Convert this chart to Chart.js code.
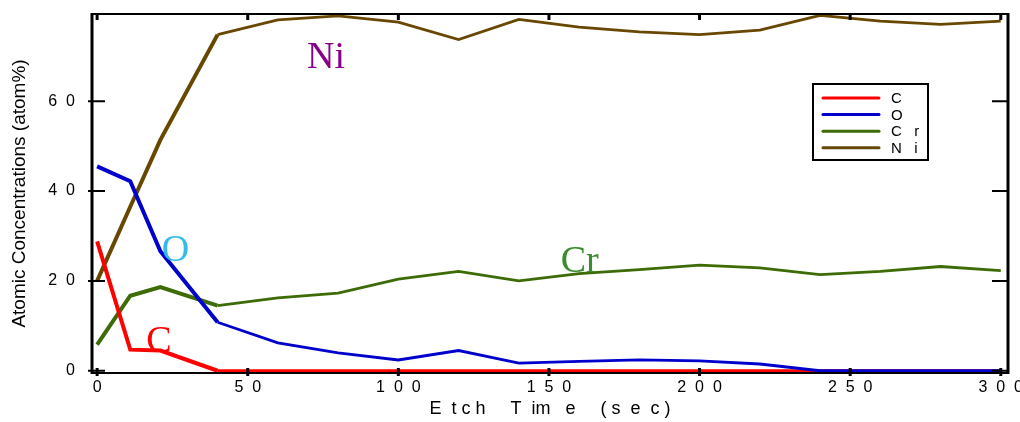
<!DOCTYPE html>
<html lang="en">
<head>
    <meta charset="UTF-8">
    <title>Atomic Concentrations</title>
    <script src="https://cdn.jsdelivr.net/npm/chart.js"></script>
    <style>
        body { margin: 0; background: #fff; }
        #wrap { width: 1020px; height: 422px; }
    </style>
</head>
<body>
    <div id="wrap"><canvas id="depthChart" width="1020" height="422"></canvas></div>

    <script>
        // etch time (sec)
        const etchTime = [0, 11, 21, 40, 60, 80, 100, 120, 140, 160, 180, 200, 220, 240, 260, 280, 300];
        const carbon   = [28.8, 4.7, 4.5, 0, 0, 0, 0, 0, 0, 0, 0, 0, 0, 0, 0, 0, 0];
        const oxygen   = [45.5, 42.2, 26.6, 10.8, 6.2, 4.0, 2.4, 4.5, 1.7, 2.1, 2.4, 2.2, 1.5, 0, 0, 0, 0];
        const chromium = [5.8, 16.7, 18.6, 14.5, 16.2, 17.3, 20.4, 22.1, 20.0, 21.6, 22.5, 23.5, 22.9, 21.4, 22.1, 23.2, 22.3];
        const nickel   = [20, 36.5, 51.4, 74.8, 78.1, 79.0, 77.6, 73.7, 78.2, 76.5, 75.4, 74.8, 75.8, 79.1, 77.8, 77.1, 77.8];

        const xTicks = [0, 50, 100, 150, 200, 250, 300];
        const xTickLabels = ["0", "5  0", "1  0  0", "1  5  0", "2  0  0", "2  5  0", "3  0  0"];
        const yTicks = [0, 20, 40, 60];
        const yTickLabels = ["0", "2  0", "4  0", "6  0"];

        const legendLabels = ["C", "O", "C   r", "N   i"];
        const seriesColors = ["#ff0000", "#0000cc", "#3d6b06", "#684800"];

        // element names written on the plot, at data positions
        const tagText = ["Ni", "O", "Cr", "C"];
        const tagX = [76, 26, 160.2, 20.5];
        const tagY = [69.6, 26.6, 24.2, 6.5];
        const tagColors = ["#880088", "#33bbee", "#3a8c2c", "#ff0000"];

        const toPoints = vals => vals.map((v, i) => ({ x: etchTime[i], y: v }));

        const steepWidth = ctx => ctx.p0DataIndex < 3 ? 4 : 2.8;

        const frameAndTicks = {
            id: 'frameAndTicks',
            afterDatasetsDraw(chart) {
                const c = chart.ctx;
                const a = chart.chartArea;
                const xs = chart.scales.x, ys = chart.scales.y;
                c.save();
                c.strokeStyle = '#000';
                // top & bottom lines
                c.lineWidth = 2;
                c.beginPath();
                c.moveTo(a.left, a.top); c.lineTo(a.right, a.top);
                c.moveTo(a.left, a.bottom); c.lineTo(a.right, a.bottom);
                c.stroke();
                // left & right lines
                c.lineWidth = 3;
                c.beginPath();
                c.moveTo(a.left, a.top - 1); c.lineTo(a.left, a.bottom + 1);
                c.moveTo(a.right, a.top - 1); c.lineTo(a.right, a.bottom + 1);
                c.stroke();
                // x ticks
                c.lineWidth = 3;
                c.beginPath();
                xTicks.forEach(v => {
                    const px = xs.getPixelForValue(v);
                    c.moveTo(px, a.top); c.lineTo(px, a.top + 6);
                    c.moveTo(px, a.bottom - 5); c.lineTo(px, a.bottom + 3);
                });
                c.stroke();
                // y ticks
                c.lineWidth = 2;
                c.beginPath();
                yTicks.forEach(v => {
                    const py = ys.getPixelForValue(v);
                    c.moveTo(a.left - 4, py); c.lineTo(a.left + 13, py);
                    c.moveTo(a.right - 16, py); c.lineTo(a.right, py);
                });
                c.stroke();

                // element tags
                c.font = '38px "Liberation Serif", serif';
                c.textAlign = 'center';
                c.textBaseline = 'middle';
                tagText.forEach((t, i) => {
                    c.fillStyle = tagColors[i];
                    c.fillText(t, xs.getPixelForValue(tagX[i]), ys.getPixelForValue(tagY[i]));
                });

                // legend box
                const lx = 813, ly = 84, lw = 115, lh = 76;
                c.lineWidth = 2;
                c.fillStyle = '#fff';
                c.fillRect(lx, ly, lw, lh);
                c.strokeRect(lx, ly, lw, lh);
                c.font = '15px "Liberation Sans", Arial, sans-serif';
                c.textAlign = 'left';
                chart.data.datasets.forEach((ds, i) => {
                    const yy = ly + 14 + i * 16.6;
                    c.strokeStyle = ds.borderColor;
                    c.lineWidth = 3;
                    c.lineCap = 'round';
                    c.beginPath();
                    c.moveTo(lx + 10, yy); c.lineTo(lx + 66, yy);
                    c.stroke();
                    c.fillStyle = '#000';
                    c.fillText(legendLabels[i], lx + 78, yy + 1);
                });
                c.restore();
            }
        };

        const ctx = document.getElementById('depthChart').getContext('2d');
        new Chart(ctx, {
            type: 'line',
            data: {
                datasets: [
                    { label: 'C', data: toPoints(carbon), order: 2 },
                    { label: 'O', data: toPoints(oxygen), order: 1 },
                    { label: 'Cr', data: toPoints(chromium), order: 3 },
                    { label: 'Ni', data: toPoints(nickel), order: 4 }
                ].map((d, i) => Object.assign(d, {
                    borderColor: seriesColors[i],
                    borderWidth: 2.8,
                    segment: { borderWidth: steepWidth },
                    pointRadius: 0,
                    tension: 0,
                    fill: false
                }))
            },
            options: {
                responsive: false,
                animation: false,
                layout: { padding: { left: 0, right: 12, top: 14, bottom: 0 } },
                plugins: { legend: { display: false }, tooltip: { enabled: false } },
                scales: {
                    x: {
                        type: 'linear',
                        min: -1.7,
                        max: 302.4,
                        afterBuildTicks: s => { s.ticks = xTicks.map(v => ({ value: v })); },
                        afterFit: s => { s.height = 49; s.paddingLeft = 0; s.paddingRight = 0; },
                        grid: { display: false, drawTicks: false },
                        border: { display: false },
                        ticks: {
                            padding: 5,
                            color: '#000',
                            font: { family: '"Liberation Sans", Arial, sans-serif', size: 16 },
                            callback: v => xTickLabels[xTicks.indexOf(v)],
                            maxRotation: 0
                        },
                        title: {
                            display: true,
                            text: 'E  t c h     T  im   e     ( s  e  c )',
                            color: '#000',
                            font: { family: '"Liberation Sans", Arial, sans-serif', size: 18 },
                            padding: { top: 0, bottom: 2 }
                        }
                    },
                    y: {
                        min: -0.5,
                        max: 79.4,
                        afterBuildTicks: s => { s.ticks = yTicks.map(v => ({ value: v })); },
                        afterFit: s => { s.width = 92; s.paddingTop = 0; s.paddingBottom = 0; },
                        grid: { display: false, drawTicks: false },
                        border: { display: false },
                        ticks: {
                            padding: 17,
                            color: '#000',
                            font: { family: '"Liberation Sans", Arial, sans-serif', size: 16 },
                            callback: v => yTickLabels[yTicks.indexOf(v)]
                        },
                        title: {
                            display: true,
                            text: 'Atomic Concentrations (atom%)',
                            color: '#000',
                            font: { family: '"Liberation Sans", Arial, sans-serif', size: 19 },
                            padding: { top: 8, bottom: 0 }
                        }
                    }
                }
            },
            plugins: [frameAndTicks]
        });
    </script>
</body>
</html>
